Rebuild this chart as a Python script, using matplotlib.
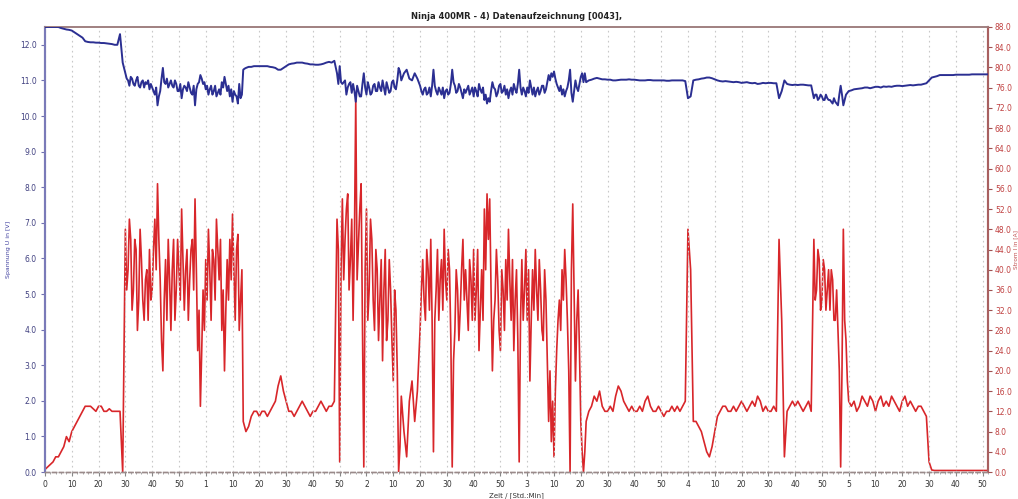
import numpy as np
import matplotlib
matplotlib.use("Agg")
import matplotlib.pyplot as plt
from matplotlib.ticker import MultipleLocator, FixedLocator, FuncFormatter

# ---------------- data ----------------
# one sample per minute, minutes 0..352
current_A = [
    # 0-29
    0.5, 1, 1.5, 2, 3, 3, 4, 5, 7, 6, 8, 9, 10, 11, 12, 13, 13, 13, 12.5, 12, 13,
    13, 12, 12, 12.5, 12, 12, 12, 12, 0,
    # 30-74
    48, 40, 46, 36, 44, 34, 42, 30, 40, 44, 36, 50, 57, 38, 20, 42, 46, 28, 46, 36,
    40, 52, 32, 44, 38, 46, 54, 24, 13, 36, 42, 48, 30, 42, 50, 38, 28, 20, 42, 46,
    51, 30, 47, 34, 10,
    # 75-108
    8, 9, 11, 12, 12, 11, 12, 12, 11, 12, 13, 14, 17, 19, 16, 14, 12, 12, 11, 12,
    13, 14, 13, 12, 11, 12, 12, 13, 14, 13, 12, 13, 13, 14,
    # 109-132
    50, 2, 54, 46, 55, 42, 30, 74, 45, 57, 1, 52, 36, 46, 28, 40, 34, 22, 44, 30,
    36, 18, 32, 0,
    # 133-139
    15, 8, 3, 14, 18, 10, 16,
    # 140-201
    28, 42, 30, 40, 46, 4, 36, 30, 42, 48, 34, 40, 1, 28, 36, 32, 46, 40, 28, 38,
    44, 36, 24, 40, 52, 55, 54, 20, 34, 38, 24, 36, 42, 48, 30, 24, 40, 2, 42, 36,
    30, 18, 40, 44, 30, 36, 26, 34, 10, 6, 3, 24, 34, 40, 44, 30, 0, 53, 18, 36,
    10, 0,
    # 202-239
    10, 12, 13, 15, 14, 16, 13, 12, 12, 13, 12, 15, 17, 16, 14, 13, 12, 13, 12, 12,
    13, 12, 14, 15, 13, 12, 12, 13, 12, 11, 12, 12, 13, 12, 13, 12, 13, 14,
    # 240-242
    48, 40, 10,
    # 243-273
    10, 9, 8, 6, 4, 3, 5, 8, 11, 12, 13, 13, 12, 12, 13, 12, 13, 14, 13, 12,
    13, 14, 13, 15, 14, 12, 13, 12, 12, 13, 12,
    # 274-277
    46, 30, 3, 12,
    # 278-286
    13, 14, 13, 14, 13, 12, 13, 14, 12,
    # 287-300
    46, 36, 42, 34, 40, 36, 32, 38, 30, 28, 1, 48, 26, 14,
    # 301-329
    13, 14, 12, 13, 15, 14, 13, 15, 14, 12, 14, 15, 13, 14, 13, 15, 14, 13, 12, 14,
    15, 13, 14, 13, 12, 13, 13, 12, 11,
    # 330-352
    2, 0.4, 0.3, 0.3, 0.3, 0.3, 0.3, 0.3, 0.3, 0.3, 0.3, 0.3, 0.3, 0.3, 0.3, 0.3,
    0.3, 0.3, 0.3, 0.3, 0.3, 0.3, 0.3,
]

# extra half-minute readings inside the noisy stretches (t = start+0.5, start+1.5, ...)
current_half_30 = [  # 30.5 .. 74.5
    36, 50, 32, 46, 28, 48, 34, 38, 30, 34, 44, 40, 46, 26, 34, 30, 38, 40, 30, 46,
    34, 42, 40, 30, 44, 36, 40, 32, 24, 28, 34, 40, 44, 34, 44, 46, 36, 32, 34, 38,
    40, 44, 28, 40, 9,
]
current_half_109 = [  # 109.5 .. 132.5
    44, 40, 38, 52, 36, 50, 46, 38, 52, 30, 40, 30, 50, 34, 44, 26, 42, 36, 26, 42,
    26, 36, 20, 5,
]
current_half_140 = [  # 140.5 .. 201.5
    36, 34, 44, 32, 30, 30, 44, 38, 32, 38, 44, 26, 22, 40, 26, 40, 34, 34, 42, 30,
    30, 44, 32, 30, 40, 46, 36, 30, 44, 28, 40, 28, 34, 38, 42, 34, 26, 30, 30, 44,
    40, 30, 32, 36, 42, 28, 40, 22, 20, 14, 16, 30, 28, 34, 38, 20, 40, 36, 30, 24,
    4, 4,
]
current_half_287 = [  # 287.5 .. 299.5
    34, 44, 32, 42, 32, 40, 40, 30, 36, 20, 20, 30, 18,
]

voltage_V = [
    # 0-29
    12.5, 12.5, 12.5, 12.5, 12.5, 12.5, 12.47, 12.45, 12.43, 12.42,
    12.4, 12.35, 12.3, 12.25, 12.2, 12.1, 12.08, 12.07, 12.07, 12.06,
    12.06, 12.05, 12.05, 12.04, 12.03, 12.02, 12.0, 12.0, 12.3, 11.5,
    # 30-74
    11.2, 11.0, 11.1, 10.9, 11.0, 10.85, 10.95, 10.8, 10.9, 10.75, 10.8, 10.6, 10.3,
    10.7, 11.35, 10.9, 10.8, 11.0, 10.8, 10.9, 10.7, 10.5, 10.85, 10.7, 10.8, 10.6,
    10.3, 10.9, 11.15, 10.9, 10.75, 10.6, 10.85, 10.7, 10.55, 10.75, 10.95, 11.1,
    10.7, 10.55, 10.4, 10.6, 10.35, 10.5, 11.3,
    # 75-108
    11.35, 11.38, 11.38, 11.4, 11.4, 11.4, 11.4, 11.4, 11.4, 11.38, 11.37, 11.35,
    11.3, 11.3, 11.35, 11.4, 11.45, 11.47, 11.48, 11.5, 11.5, 11.5, 11.48, 11.47,
    11.45, 11.45, 11.44, 11.44, 11.45, 11.47, 11.5, 11.52, 11.5, 11.55,
    # 109-132
    11.2, 11.4, 10.9, 11.0, 10.8, 10.95, 10.9, 10.4, 10.7, 10.55, 11.2, 10.6, 10.8,
    10.65, 10.9, 10.7, 10.8, 11.0, 10.6, 10.8, 10.7, 11.0, 10.75, 11.35,
    # 133-139
    11.0, 11.2, 11.3, 11.05, 11.0, 11.2, 11.05,
    # 140-201
    10.85, 10.6, 10.8, 10.65, 10.55, 11.3, 10.7, 10.8, 10.6, 10.5, 10.75, 10.65,
    11.3, 10.85, 10.7, 10.8, 10.5, 10.65, 10.85, 10.7, 10.55, 10.7, 10.9, 10.65,
    10.45, 10.35, 10.4, 10.95, 10.75, 10.65, 10.9, 10.7, 10.6, 10.5, 10.8, 10.9,
    10.65, 11.3, 10.6, 10.7, 10.8, 11.0, 10.6, 10.55, 10.8, 10.7, 10.85, 10.75,
    11.15, 11.2, 11.25, 10.9, 10.7, 10.6, 10.55, 10.8, 11.3, 10.4, 11.0, 10.7,
    11.1, 10.95,
    # 202-239
    10.95, 11.0, 11.02, 11.05, 11.07, 11.05, 11.03, 11.03, 11.02, 11.02, 11.0, 11.0,
    11.01, 11.02, 11.02, 11.02, 11.03, 11.02, 11.02, 11.01, 11.0, 11.0, 11.0, 11.01,
    11.01, 11.0, 11.0, 11.0, 11.0, 11.0, 10.99, 10.99, 11.0, 11.0, 11.0, 11.0, 11.0,
    10.98,
    # 240-242
    10.5, 10.55, 11.0,
    # 243-273
    11.02, 11.03, 11.05, 11.06, 11.08, 11.08, 11.06, 11.03, 11.0, 10.98, 10.97,
    10.98, 10.97, 10.96, 10.95, 10.96, 10.95, 10.93, 10.94, 10.95, 10.93, 10.92,
    10.93, 10.9, 10.91, 10.93, 10.92, 10.93, 10.93, 10.92, 10.92,
    # 274-277
    10.5, 10.7, 11.0, 10.9,
    # 278-286
    10.88, 10.87, 10.88, 10.87, 10.88, 10.88, 10.87, 10.86, 10.86,
    # 287-300
    10.5, 10.6, 10.5, 10.55, 10.45, 10.5, 10.45, 10.35, 10.4, 10.3, 10.85, 10.3,
    10.6, 10.7,
    # 301-329
    10.72, 10.75, 10.76, 10.77, 10.78, 10.8, 10.8, 10.78, 10.8, 10.82, 10.82, 10.8,
    10.83, 10.82, 10.83, 10.82, 10.84, 10.85, 10.85, 10.84, 10.85, 10.86, 10.87,
    10.86, 10.87, 10.88, 10.88, 10.9, 10.92,
    # 330-352
    11.0, 11.08, 11.1, 11.12, 11.15, 11.15, 11.15, 11.15, 11.15, 11.15, 11.16,
    11.16, 11.16, 11.16, 11.16, 11.16, 11.17, 11.17, 11.17, 11.17, 11.17, 11.17,
    11.17,
]

voltage_half_30 = [  # 30.5 .. 74.5
    11.05, 10.85, 11.05, 10.85, 11.1, 10.8, 11.0, 10.95, 11.0, 10.9, 10.7, 10.8,
    10.55, 11.05, 10.95, 11.05, 10.9, 10.85, 11.0, 10.7, 10.9, 10.75, 10.8, 10.95,
    10.65, 10.85, 10.75, 10.95, 11.05, 10.95, 10.85, 10.75, 10.6, 10.85, 10.65,
    10.6, 10.8, 10.9, 10.85, 10.75, 10.7, 10.55, 10.9, 10.6, 11.33,
]
voltage_half_109 = [  # 109.5 .. 132.5
    10.9, 10.95, 10.95, 10.6, 10.9, 10.65, 10.7, 10.85, 10.55, 10.9, 10.8, 10.95,
    10.6, 10.85, 10.7, 10.95, 10.7, 10.8, 10.95, 10.65, 10.95, 10.8, 11.0, 11.25,
]
voltage_half_140 = [  # 140.5 .. 201.5
    10.7, 10.75, 10.6, 10.8, 10.85, 10.85, 10.6, 10.7, 10.8, 10.7, 10.6, 10.9,
    10.95, 10.65, 10.9, 10.65, 10.75, 10.75, 10.6, 10.8, 10.8, 10.55, 10.75, 10.8,
    10.6, 10.5, 10.7, 10.8, 10.55, 10.85, 10.65, 10.85, 10.75, 10.7, 10.6, 10.75,
    10.9, 10.8, 10.8, 10.55, 10.65, 10.8, 10.8, 10.7, 10.6, 10.85, 10.65, 10.95,
    11.0, 11.1, 11.05, 10.8, 10.85, 10.75, 10.7, 11.0, 10.65, 10.7, 10.8, 10.9,
    11.2, 11.2,
]
voltage_half_287 = [  # 287.5 .. 299.5
    10.6, 10.45, 10.6, 10.45, 10.6, 10.45, 10.4, 10.5, 10.35, 10.6, 10.6, 10.45,
    10.65,
]

half_starts = [30, 109, 140, 287]

title_text = "Ninja 400MR - 4) Datenaufzeichnung [0043],"
ylabel_left = "Spannung U in [V]"
ylabel_right = "Strom I in [A]"
xlabel_text = "Zeit / [Std.:Min]"


def merge(base, halves):
    t = list(np.arange(len(base), dtype=float))
    v = list(base)
    for start, vals in zip(half_starts, halves):
        t.extend(start + 0.5 + np.arange(len(vals)))
        v.extend(vals)
    order = np.argsort(t, kind="stable")
    return np.asarray(t)[order], np.asarray(v, dtype=float)[order]


t_cur, v_cur = merge(current_A, [current_half_30, current_half_109,
                                 current_half_140, current_half_287])
t_vol, v_vol = merge(voltage_V, [voltage_half_30, voltage_half_109,
                                 voltage_half_140, voltage_half_287])

# ---------------- figure ----------------
plt.rcParams['font.family'] = ['DejaVu Sans']
fig = plt.figure(figsize=(10.18, 4.99), dpi=100)
ax = fig.add_axes([45 / 1018, 1 - 472 / 499, (988 - 45) / 1018, (472 - 27) / 499])
ax2 = ax.twinx()

blue = "#2b2f92"
red = "#d8262a"

ax2.plot(t_cur, v_cur, color=red, lw=1.2, zorder=2)
ax.plot(t_vol, v_vol, color=blue, lw=1.4, zorder=3)

ax.set_zorder(ax2.get_zorder() + 1)
ax.patch.set_visible(False)

ax.set_xlim(0, 352)
ax.set_ylim(0, 12.5)
ax2.set_ylim(0, 88)

major_x = list(range(0, 351, 10))
ax.xaxis.set_major_locator(FixedLocator(major_x))
ax.xaxis.set_minor_locator(MultipleLocator(2))
ax.xaxis.set_major_formatter(FuncFormatter(
    lambda v, p: str(int(v) // 60) if int(v) % 60 == 0 else str(int(v) % 60)))
ax.yaxis.set_major_locator(MultipleLocator(1.0))
ax.yaxis.set_major_formatter(FuncFormatter(lambda v, p: f"{v:.1f}"))
ax2.yaxis.set_major_locator(MultipleLocator(4.0))
ax2.yaxis.set_major_formatter(FuncFormatter(lambda v, p: f"{v:.1f}"))

ax.grid(axis='x', which='major', color='#c8c8c8', linestyle=(0, (1.5, 3)), lw=0.8)

ax.tick_params(axis='x', which='major', labelsize=5.5, length=3, color='#888888',
               colors='#333333', pad=3)
ax.tick_params(axis='x', which='minor', length=1.5, color='#999999')
ax.tick_params(axis='y', labelsize=5.5, length=3, color='#7070b0', labelcolor='#404080', pad=3)
ax2.tick_params(axis='y', labelsize=5.5, length=3, color='#a05050', labelcolor='#c04040', pad=2)

for a in (ax, ax2):
    a.spines['left'].set_color('#7a7ab8')
    a.spines['left'].set_linewidth(1.5)
    a.spines['right'].set_color('#a86060')
    a.spines['right'].set_linewidth(1.5)
    a.spines['top'].set_color('#a08080')
    a.spines['top'].set_linewidth(1.2)
    a.spines['bottom'].set_color('#9a8a8a')
    a.spines['bottom'].set_linestyle((0, (3, 2)))
    a.spines['bottom'].set_linewidth(1.0)

ax.set_title(title_text, fontsize=6, fontweight='bold', color='#222222', pad=6)
ax.set_ylabel(ylabel_left, fontsize=4.5, color='#4040a0', labelpad=6)
ax2.set_ylabel(ylabel_right, fontsize=4.2, color='#c05050', labelpad=1)
ax.set_xlabel(xlabel_text, fontsize=5, color='#333333', labelpad=2)

fig.savefig("out.png", dpi=100, facecolor='white')
